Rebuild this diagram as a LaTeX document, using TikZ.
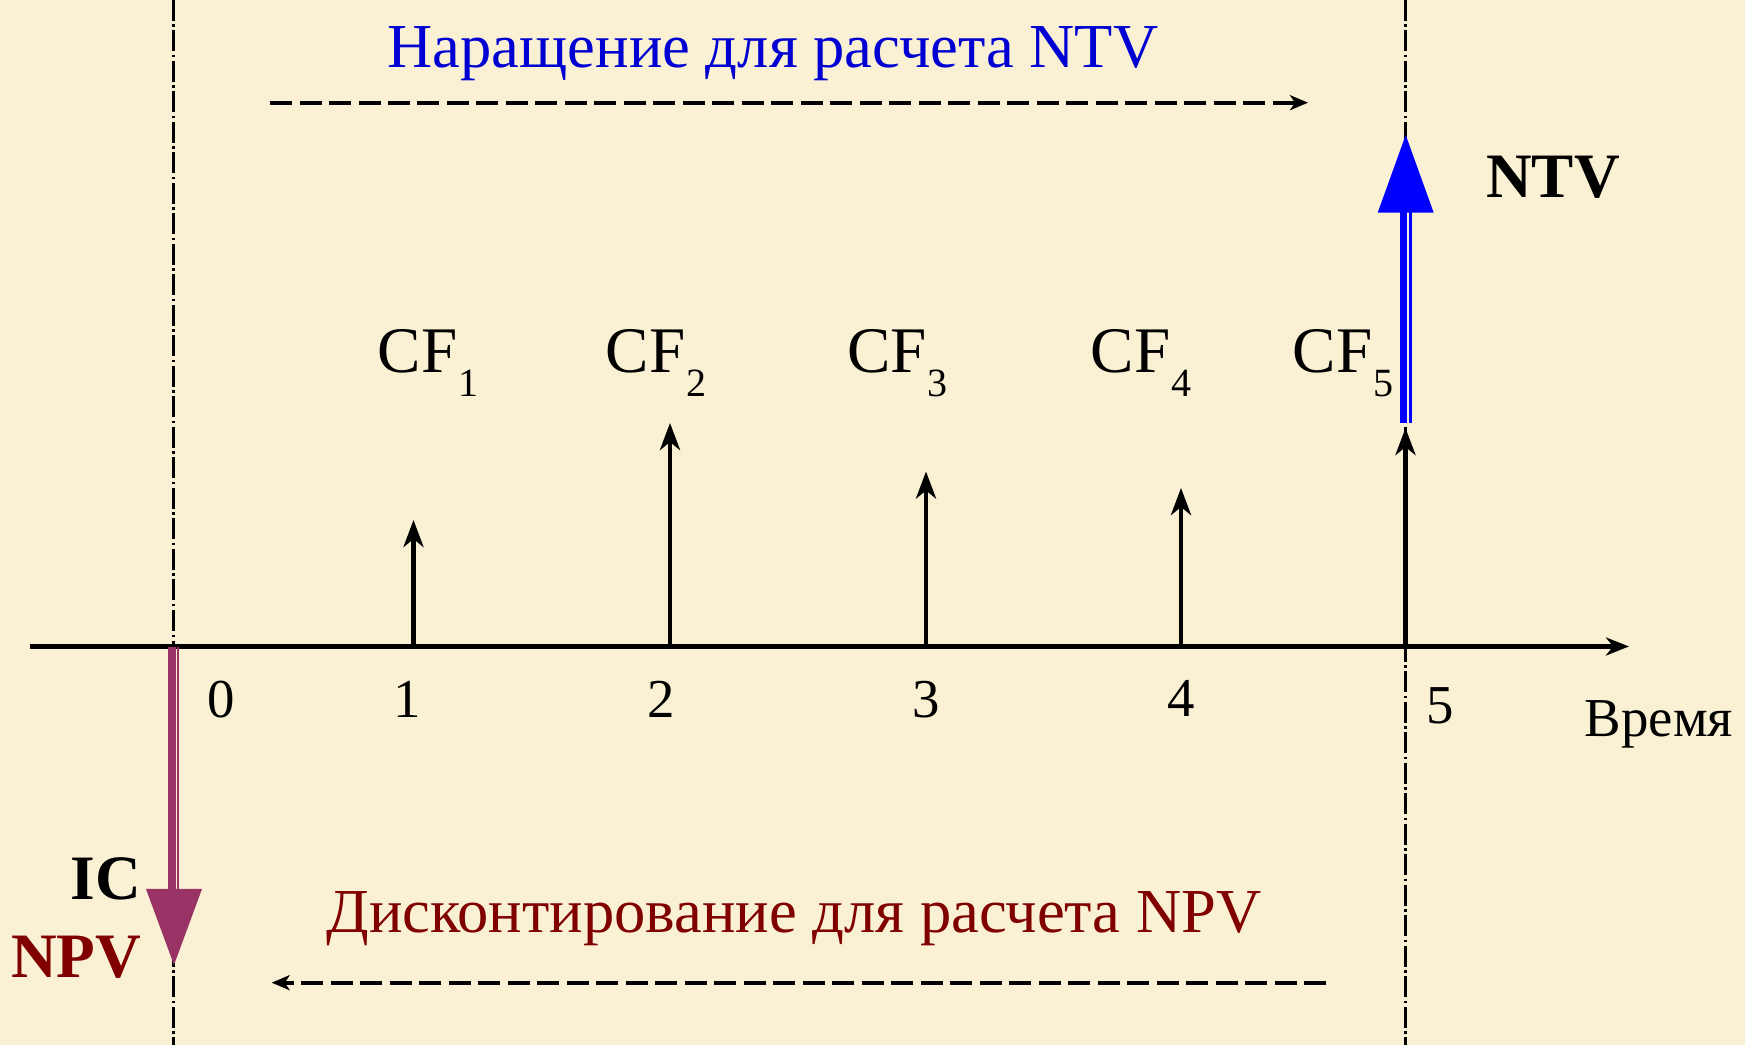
\documentclass[tikz,border=0pt]{standalone}
\usepackage{fontspec}
\setmainfont{Liberation Serif}
\usepackage{tikz}
\usetikzlibrary{arrows.meta, calc}
\definecolor{paper}{RGB}{250,241,212}
\definecolor{ntvB}{RGB}{0,0,255}
\definecolor{ntvT}{RGB}{0,0,210}
\definecolor{npvR}{RGB}{128,0,0}
\definecolor{icM}{RGB}{153,51,102}
\newcommand{\cfsub}[1]{CF\kern0.3pt\raisebox{-0.24cm}{\fontsize{11.4}{13}\selectfont #1}}
\tikzset{
  axisline/.style={line width=1.3pt, -{Stealth[length=0.23cm, width=0.18cm, inset=0.07cm]}},
  cfarrow/.style={line width=1.4pt, -{Stealth[length=0.27cm, width=0.2cm, inset=0.08cm]}},
  guide/.style={line width=0.6pt, dash pattern=on 0.21cm off 0.035cm on 0.025cm off 0.035cm},
  flowarrow/.style={line width=1.2pt, dash pattern=on 0.22cm off 0.075cm,
    -{Stealth[length=0.18cm, width=0.15cm, inset=0.05cm]}},
  cflabel/.style={font=\fontsize{18.5}{22}\selectfont, anchor=base west, inner sep=0pt},
  ticklabel/.style={font=\fontsize{15.6}{18}\selectfont, anchor=base, inner sep=0pt},
  sumlabel/.style={font=\fontsize{18}{22}\selectfont\bfseries, anchor=base, inner sep=0pt},
  titlelabel/.style={font=\fontsize{17.8}{21}\selectfont, anchor=base, inner sep=0pt}
}
\begin{document}
\begin{tikzpicture}[scale=1.0]
\useasboundingbox (0,0) rectangle (17.45,10.45);
\fill[paper] (0,0) rectangle (17.45,10.45);
% time lines at 0 and 5
\coordinate (g0top) at (1.735,10.45);
\coordinate (g0bot) at (1.735,0);
\coordinate (g5top) at (14.055,10.45);
\coordinate (g5bot) at (14.055,0);
\draw[guide] (g0top) -- (g0bot);
\draw[guide] (g5top) -- (g5bot);
% time axis
\coordinate (axL) at (0.30,3.985);
\coordinate (axR) at (16.29,3.985);
\draw[axisline] (axL) -- (axR);
\node[ticklabel] (d0) at (2.21,3.27) {0};
\node[ticklabel] (time) at (15.84,3.08) [anchor=base west] {Время};
% cash flows
\foreach \i/\x/\h/\lx/\tx/\ty in {1/4.135/5.25/3.77/4.07/3.27, 2/6.70/6.22/6.05/6.61/3.27,
    3/9.26/5.735/8.467/9.26/3.27, 4/11.81/5.57/10.90/11.81/3.28, 5/14.055/6.17/12.92/14.40/3.21}{
  \coordinate (t\i) at (\x,3.985);
  \coordinate (f\i) at (\x,\h);
  \draw[cfarrow] (t\i) -- (f\i);
  \node[cflabel] (cf\i) at (\lx,6.72) {\cfsub{\i}};
  \node[ticklabel] (d\i) at (\tx,\ty) {\i};
}
% NTV
\coordinate (ntvS) at (14.057,6.223);
\coordinate (ntvH) at (14.057,8.323);
\coordinate (ntvP) at (14.057,9.10);
\fill[ntvB] ($(ntvS)+(-0.057,0)$) rectangle ($(ntvH)+(0.010,0.01)$);
\fill[ntvB] ($(ntvS)+(0.030,0)$) rectangle ($(ntvH)+(0.060,0.01)$);
\fill[ntvB] ($(ntvH)+(-0.28,0)$) -- ($(ntvH)+(0.28,0)$) -- (ntvP) -- cycle;
\node[sumlabel] (ntv) at (15.53,8.475) {NTV};
% IC / NPV
\coordinate (icS) at (1.74,3.983);
\coordinate (icH) at (1.74,1.56);
\coordinate (icP) at (1.74,0.80);
\fill[icM] ($(icS)+(-0.057,0)$) rectangle ($(icH)+(0.017,-0.01)$);
\fill[icM] ($(icS)+(0.027,0)$) rectangle ($(icH)+(0.053,-0.01)$);
\fill[icM] ($(icH)+(-0.28,0)$) -- ($(icH)+(0.28,0)$) -- (icP) -- cycle;
\node[sumlabel, anchor=base east] (ic) at (1.42,1.45) {IC};
\node[sumlabel, anchor=base east, text=npvR] (npv) at (1.42,0.67) {NPV};
% compounding and discounting
\node[titlelabel, text=ntvT] (compT) at (7.73,9.77) {Наращение для расчета NTV};
\coordinate (compL) at (2.70,9.423);
\coordinate (compR) at (13.08,9.423);
\draw[flowarrow] (compL) -- (compR);
\node[titlelabel, text=npvR] (discT) at (7.94,1.12) {Дисконтирование для расчета NPV};
\coordinate (discR) at (13.26,0.623);
\coordinate (discL) at (2.717,0.623);
\draw[flowarrow] (discR) -- (discL);
\end{tikzpicture}
\end{document}
